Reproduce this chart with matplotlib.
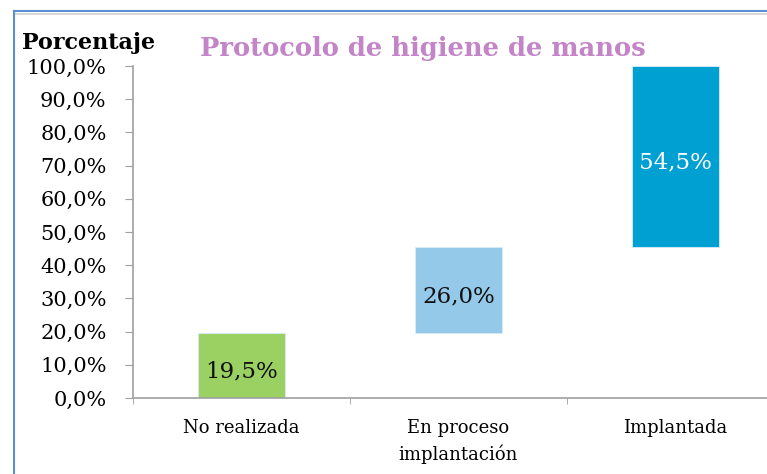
import matplotlib.pyplot as plt
from matplotlib.lines import Line2D
import numpy as np

categories = ["No realizada", "En proceso\nimplantación", "Implantada"]
values = [19.5, 26.0, 54.5]
colors = ["#9bd162", "#94c9ea", "#00a0d2"]
label_colors = ["#111111", "#111111", "#ffffff"]
yticks = np.arange(0, 101, 10)

plt.rcParams['font.family'] = ['DejaVu Serif']

fig = plt.figure(figsize=(7.67, 4.74), dpi=100)
ax = fig.add_axes([0.1734, 0.1603, 0.8486, 0.7005])

bottoms = np.concatenate(([0], np.cumsum(values)[:-1]))
x = np.arange(len(categories))
ax.bar(x, values, bottom=bottoms, width=0.4, color=colors,
       edgecolor="#d8eef8", linewidth=0.6)
for xi, b, v, c in zip(x, bottoms, values, label_colors):
    ax.annotate(f"{v:.1f}%".replace(".", ","), (xi, b + v / 2),
                xytext=(0, -4.5), textcoords="offset points",
                ha="center", va="center", fontsize=16.5, color=c)

ax.set_xlim(-0.5, 2.5)
ax.set_ylim(0, 100)
ax.set_yticks(yticks)
ax.set_yticklabels([f"{t:.1f}%".replace(".", ",") for t in yticks],
                   fontsize=15)
ax.set_xticks(x)
ax.set_xticklabels(categories, fontsize=13, linespacing=1.5)
ax.set_xticks([-0.5, 0.5, 1.5, 2.5], minor=True)
ax.tick_params(axis="x", which="major", length=0, pad=15)
ax.tick_params(axis="x", which="minor", length=4, color="#a0a0a0")
ax.tick_params(axis="y", length=6, color="#a0a0a0", pad=13)
for s in ["top", "right"]:
    ax.spines[s].set_visible(False)
for s in ["left", "bottom"]:
    ax.spines[s].set_color("#a0a0a0")
    ax.spines[s].set_linewidth(1.2)

fig.text(0.029, 0.910, "Porcentaje", fontsize=16, fontweight="bold",
         ha="left", va="center")
fig.text(0.551, 0.898, "Protocolo de higiene de manos", fontsize=18.5,
         fontweight="bold", color="#c384c8", ha="center", va="center")

# outer frame
fig.add_artist(Line2D([0.018, 1.0], [0.977, 0.977], color="#5b8fd0", lw=1.5))
fig.add_artist(Line2D([0.018, 1.0], [0.970, 0.970], color="#d0d0d0", lw=1.2))
fig.add_artist(Line2D([0.018, 0.018], [0.0, 0.977], color="#5b8fd0", lw=1.5))

fig.savefig("out.png", dpi=100)
